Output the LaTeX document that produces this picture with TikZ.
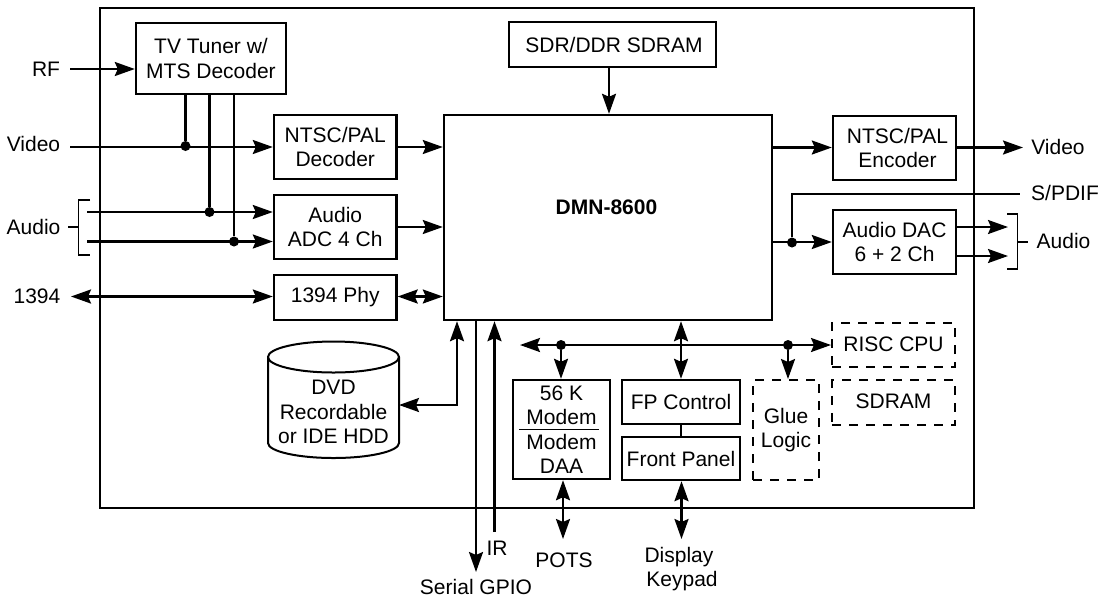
\documentclass[tikz,border=0pt]{standalone}
\usepackage{fontspec}
\setmainfont{Liberation Sans}
\usetikzlibrary{arrows.meta}
\tikzset{
  box/.style={draw,line width=2.4pt,inner sep=0pt,align=center,font=\lbl},
  dbox/.style={box,line width=2pt,dash pattern=on 9pt off 8pt},
  txt/.style={inner sep=0pt,align=center,font=\lbl},
  conn/.style={line width=2.4pt},
  arr/.style={conn,-{Stealth[length=20pt,width=14pt,inset=3pt]}},
  darr/.style={conn,{Stealth[length=20pt,width=14pt,inset=3pt]}-{Stealth[length=20pt,width=14pt,inset=3pt]}},
  thin line/.style={line width=1.2pt},
  dot/.style={circle,fill=black,inner sep=0pt,minimum size=10pt},
}
\newcommand{\lbl}{\fontsize{21}{24.5}\selectfont}
\begin{document}
\begin{tikzpicture}[x=1pt,y=-1pt]
\useasboundingbox (0,0) rectangle (1107,598);
\node[draw,line width=2.4pt,minimum width=874pt,minimum height=500pt,inner sep=0pt] (outer) at (537,258) {};
% boxes
\node[box,minimum width=150pt,minimum height=71pt] (tuner) at (211,58.5) {TV Tuner w/\\MTS Decoder};
\node[box,minimum width=122.5pt,minimum height=64pt] (dec) at (335.25,147) {NTSC/PAL\\Decoder};
\node[box,minimum width=122.5pt,minimum height=64pt] (adc) at (335.25,227) {Audio\\ADC 4 Ch};
\node[box,minimum width=122.5pt,minimum height=45pt] (phy) at (335.25,297.5) {1394 Phy};
\node[box,minimum width=328pt,minimum height=205pt] (dmn) at (608,217.5) {};
\node[txt,font=\fontsize{21}{24}\selectfont\bfseries] (dmnl) at (606.5,207.5) {DMN-8600};
\node[box,minimum width=207pt,minimum height=45pt] (sdr) at (612.5,44.5) {\hspace*{3pt}SDR/DDR SDRAM};
\node[box,minimum width=123pt,minimum height=64pt] (enc) at (894.5,148) {\hspace*{6pt}NTSC/PAL\\\hspace*{6pt}Encoder};
\node[box,minimum width=123pt,minimum height=64pt] (dac) at (894.5,242) {Audio DAC\\6 + 2 Ch};
\node[dbox,minimum width=123pt,minimum height=44pt] (risc) at (893.5,345) {\raisebox{2pt}{RISC CPU}};
\node[dbox,minimum width=123pt,minimum height=44.5pt] (sdram) at (893.5,402.5) {\raisebox{2pt}{SDRAM}};
\node[dbox,minimum width=66pt,minimum height=100pt] (glue) at (786,430) {Glue\\Logic};
\node[box,minimum width=118pt,minimum height=44pt] (fp) at (681,402) {FP Control};
\node[box,minimum width=118pt,minimum height=43pt] (front) at (681,458.5) {Front Panel};
\node[box,minimum width=97pt,minimum height=99pt] (modem) at (561.5,429.5) {56 K\\Modem\\Modem\\DAA};
\coordinate (divl) at (519,429.5); \coordinate (divr) at (599,429.5);
\draw[line width=1.4pt] (divl) -- (divr);
\draw[conn] (fp.south) -- (front.north);
% DVD
\draw[line width=2pt] (268,357) arc[start angle=180,end angle=-180,x radius=65.5,y radius=15.5]
  -- (268,443) arc[start angle=180,end angle=0,x radius=65.5,y radius=15] -- (399,357);
\node[txt] (dvd) at (333.5,412) {DVD\\Recordable\hspace*{5pt}\\or IDE HDD};
\coordinate (dvdp) at (399,405);
\coordinate (dvdk) at (457,405);
% left labels
\node[txt] (rf) at (46,69) {RF};
\node[txt] (vidl) at (33.5,144) {Video};
\node[txt] (audl) at (33.5,227) {Audio};
\node[txt] (l1394) at (37,296) {1394};
\coordinate (rfs) at (70,69);
\coordinate (vids) at (70,147);
\coordinate (a1s) at (87,212);
\coordinate (a2s) at (87,241.5);
\coordinate (p1394) at (71,296.5);
\draw[arr] (rfs) -- (tuner.west |- rfs);
\draw[arr] (vids) -- (dec.west |- vids);
\draw[arr] (a1s) -- (adc.west |- a1s);
\draw[arr] (a2s) -- (adc.west |- a2s);
\draw[darr] (p1394) -- (phy.west |- p1394);
% tuner taps
\node[dot] (d1) at (185.5,146) {};
\node[dot] (d2) at (209.5,212) {};
\node[dot] (d3) at (234,241.5) {};
\draw[conn] (tuner.south -| d1) -- (d1);
\draw[conn] (tuner.south -| d2) -- (d2);
\draw[conn] (tuner.south -| d3) -- (d3);
% left bracket
\coordinate (bl1) at (90,200); \coordinate (bl2) at (78.5,200);
\coordinate (bl3) at (78.5,255); \coordinate (bl4) at (90,255);
\coordinate (bls) at (68,227);
\draw[thin line] (bl1) -- (bl2) -- (bl3) -- (bl4);
\draw[thin line] (bls) -- (bl2 |- bls);
% into dmn
\draw[arr] (dec.east) -- (dmn.west |- dec.east);
\draw[arr] (adc.east) -- (dmn.west |- adc.east);
\draw[darr] (phy.east |- p1394) -- (dmn.west |- p1394);
\coordinate (sdrp) at (609,67);
\draw[arr] (sdrp) -- (dmn.north -| sdrp);
\draw[darr] (dvdp) -- (dvdk) -- (dmn.south -| dvdk);
% gpio, ir
\coordinate (gp) at (476,572); \coordinate (irs) at (494.5,532);
\draw[arr] (dmn.south -| gp) -- (gp);
\draw[arr] (irs) -- (dmn.south -| irs);
\node[txt] (ir) at (497,548) {IR};
\node[txt] (gpio) at (476,587) {Serial GPIO};
% right
\node[txt] (vidr) at (1058,147) {Video};
\node[txt] (spdif) at (1065,193) {S/PDIF};
\node[txt] (audr) at (1063.5,241) {Audio};
\coordinate (vide) at (1023,147.5);
\draw[arr] (dmn.east |- vide) -- (enc.west |- vide);
\draw[arr] (enc.east |- vide) -- (vide);
\draw[arr] (dmn.east |- dac.west) -- (dac.west);
\node[dot] (d4) at (792,242.5) {};
\coordinate (spe) at (1020,194);
\draw[conn] (d4) -- (d4 |- spe) -- (spe);
\coordinate (o1) at (1008,227); \coordinate (o2) at (1008,256);
\draw[arr] (dac.east |- o1) -- (o1);
\draw[arr] (dac.east |- o2) -- (o2);
\coordinate (br1) at (1007,214); \coordinate (br2) at (1017.5,214);
\coordinate (br3) at (1017.5,269); \coordinate (br4) at (1007,269);
\coordinate (brs) at (1028,242);
\draw[thin line] (br1) -- (br2) -- (br3) -- (br4);
\draw[thin line] (br2 |- brs) -- (brs);
% bus
\coordinate (busl) at (520,345);
\node[dot] (d5) at (561,345) {};
\node[dot] (d6) at (788,345) {};
\draw[darr] (busl) -- (risc.west);
\draw[arr] (d5) -- (modem.north -| d5);
\draw[arr] (d6) -- (glue.north -| d6);
\draw[darr] (dmn.south -| fp.north) -- (fp.north);
% bottom
\coordinate (pots) at (563,539); \coordinate (key) at (681.5,539);
\draw[darr] (modem.south -| pots) -- (pots);
\draw[darr] (front.south -| key) -- (key);
\node[txt] (potsl) at (564,560) {POTS};
\node[txt] (keyl) at (680.5,569) {Display\hspace*{3pt}\\\hspace*{3pt}Keypad};
\end{tikzpicture}
\end{document}
